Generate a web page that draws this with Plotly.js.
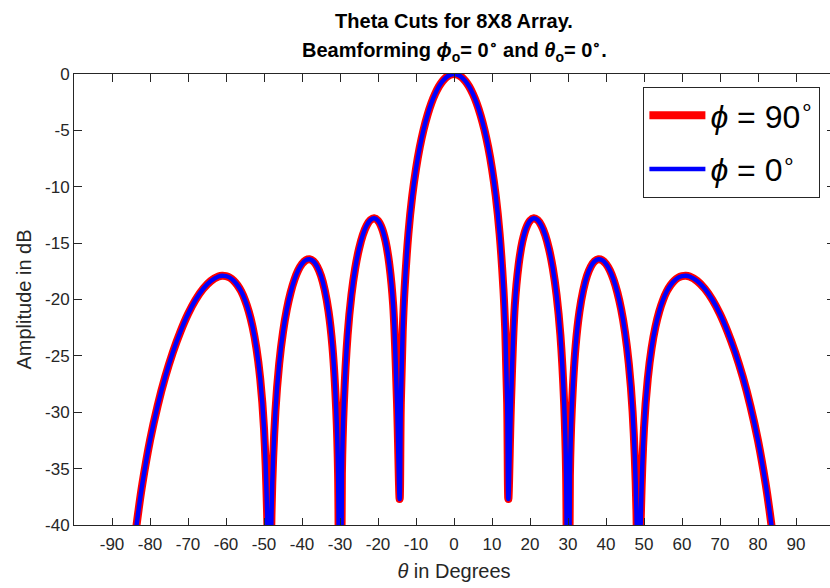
<!DOCTYPE html>
<html>
<head>
<meta charset="utf-8">
<script src="https://cdn.plot.ly/plotly-3.0.1.min.js"></script>
<style>
html, body { margin:0; padding:0; overflow:hidden; background:#fff; }
#chart { width:836px; height:588px; }
</style>
</head>
<body>
<div id="chart"></div>
<script>
// Theta samples (degrees)
const theta = [
  -90,-88,-86,-84,-83,-82,-80,-78,-76,-74,
  -72,-70,-68,-66,-64,-62,-61,-60,-59,-58,
  -57,-56,-55,-54,-53,-52,-51,-50,-49,-48.6,
  -48,-47,-46,-45,-44,-43,-42,-41,-40,-39,
  -38,-37,-36,-35,-34,-33,-32,-31,-30.5,-30,
  -29.5,-29,-28,-27,-26,-25,-24,-23,-22,-21,
  -20,-19,-18,-17,-16,-15,-14.3,-14,-13.5,-13,
  -12,-11,-10,-9,-8,-7,-6,-5,-4,-3,
  -2,-1,0,
  1,2,3,4,5,6,7,8,9,10,
  11,12,13,13.5,14,14.3,15,16,17,18,
  19,20,21,22,23,24,25,26,27,28,
  29,29.5,30,30.5,31,32,33,34,35,36,
  37,38,39,40,41,42,43,44,45,46,
  47,48,48.6,49,50,51,52,53,54,55,
  56,57,58,59,60,61,62,64,66,68,
  70,72,74,76,78,80,82,83,84,86,
  88,90
];

// Amplitude (dB), cut at phi = 90 deg
const ampPhi90 = [
  -80,-60.3,-48.3,-41.3,-38.64,-36.33,-32.51,-29.44,-26.87,-24.7,
  -22.86,-21.29,-20.02,-19.05,-18.36,-17.96,-17.89,-17.93,-18.06,-18.32,
  -18.72,-19.27,-20.05,-21.07,-22.44,-24.31,-27.01,-31.42,-41.9,-70,
  -38.6,-29.96,-25.69,-22.9,-20.89,-19.39,-18.25,-17.41,-16.84,-16.51,
  -16.43,-16.61,-17.08,-17.9,-19.18,-21.1,-24.15,-29.77,-35.6,-70,
  -35.4,-29.32,-23.16,-19.63,-17.23,-15.52,-14.28,-13.44,-12.95,-12.8,
  -13.01,-13.65,-14.85,-16.93,-20.54,-29.1,-37.7,-29.34,-22.86,-19.05,
  -14.15,-10.85,-8.41,-6.48,-4.93,-3.66,-2.62,-1.79,-1.12,-0.63,
  -0.28,-0.07,0,
  -0.07,-0.28,-0.63,-1.12,-1.79,-2.62,-3.66,-4.93,-6.48,-8.41,
  -10.85,-14.15,-19.05,-22.86,-29.34,-37.7,-29.1,-20.54,-16.93,-14.85,
  -13.65,-13.01,-12.8,-12.95,-13.44,-14.28,-15.52,-17.23,-19.63,-23.16,
  -29.32,-35.4,-70,-35.6,-29.77,-24.15,-21.1,-19.18,-17.9,-17.08,
  -16.61,-16.43,-16.51,-16.84,-17.41,-18.25,-19.39,-20.89,-22.9,-25.69,
  -29.96,-38.6,-70,-41.9,-31.42,-27.01,-24.31,-22.44,-21.07,-20.05,
  -19.27,-18.72,-18.32,-18.06,-17.93,-17.89,-17.96,-18.36,-19.05,-20.02,
  -21.29,-22.86,-24.7,-26.87,-29.44,-32.51,-36.33,-38.64,-41.3,-48.3,
  -60.3,-80
];

// Amplitude (dB), cut at phi = 0 deg (identical for the square array)
const ampPhi0 = [
  -80,-60.3,-48.3,-41.3,-38.64,-36.33,-32.51,-29.44,-26.87,-24.7,
  -22.86,-21.29,-20.02,-19.05,-18.36,-17.96,-17.89,-17.93,-18.06,-18.32,
  -18.72,-19.27,-20.05,-21.07,-22.44,-24.31,-27.01,-31.42,-41.9,-70,
  -38.6,-29.96,-25.69,-22.9,-20.89,-19.39,-18.25,-17.41,-16.84,-16.51,
  -16.43,-16.61,-17.08,-17.9,-19.18,-21.1,-24.15,-29.77,-35.6,-70,
  -35.4,-29.32,-23.16,-19.63,-17.23,-15.52,-14.28,-13.44,-12.95,-12.8,
  -13.01,-13.65,-14.85,-16.93,-20.54,-29.1,-37.7,-29.34,-22.86,-19.05,
  -14.15,-10.85,-8.41,-6.48,-4.93,-3.66,-2.62,-1.79,-1.12,-0.63,
  -0.28,-0.07,0,
  -0.07,-0.28,-0.63,-1.12,-1.79,-2.62,-3.66,-4.93,-6.48,-8.41,
  -10.85,-14.15,-19.05,-22.86,-29.34,-37.7,-29.1,-20.54,-16.93,-14.85,
  -13.65,-13.01,-12.8,-12.95,-13.44,-14.28,-15.52,-17.23,-19.63,-23.16,
  -29.32,-35.4,-70,-35.6,-29.77,-24.15,-21.1,-19.18,-17.9,-17.08,
  -16.61,-16.43,-16.51,-16.84,-17.41,-18.25,-19.39,-20.89,-22.9,-25.69,
  -29.96,-38.6,-70,-41.9,-31.42,-27.01,-24.31,-22.44,-21.07,-20.05,
  -19.27,-18.72,-18.32,-18.06,-17.93,-17.89,-17.96,-18.36,-19.05,-20.02,
  -21.29,-22.86,-24.7,-26.87,-29.44,-32.51,-36.33,-38.64,-41.3,-48.3,
  -60.3,-80
];

const seriesNames = ['<i>ϕ</i> = 90<sup>∘</sup>', '<i>ϕ</i> = 0<sup>∘</sup>'];
const titleLine1 = '<b>Theta Cuts for 8X8 Array.</b>';
const titleLine2 = '<b>Beamforming <i>ϕ</i><sub>o</sub>= 0<sup>∘</sup> and <i>θ</i><sub>o</sub>= 0<sup>∘</sup>.</b>';

const xTickVals = [-90,-80,-70,-60,-50,-40,-30,-20,-10,0,10,20,30,40,50,60,70,80,90];
const xTickText = ['-90','-80','-70','-60','-50','-40','-30','-20','-10','0','10','20','30','40','50','60','70','80','90'];
const yTickVals = [0,-5,-10,-15,-20,-25,-30,-35,-40];
const yTickText = ['0','-5','-10','-15','-20','-25','-30','-35','-40'];

const FONT = 'Liberation Sans, Arial, Helvetica, sans-serif';
const AX = '#262626';

const traces = [
  { x: theta, y: ampPhi90, name: seriesNames[0], type: 'scatter', mode: 'lines',
    line: { color: '#ff0000', width: 8, shape: 'spline', smoothing: 1 }, legendgroup: 'a' },
  { x: theta, y: ampPhi0, name: seriesNames[1], type: 'scatter', mode: 'lines',
    line: { color: '#0000ff', width: 4.5, shape: 'spline', smoothing: 1 }, legendgroup: 'b' }
];

const layout = {
  width: 836, height: 588,
  margin: { l: 73.6, r: 2.4, t: 74, b: 63, autoexpand: false },
  paper_bgcolor: '#ffffff', plot_bgcolor: '#ffffff',
  font: { family: FONT, color: AX },
  title: {
    text: titleLine1,
    font: { family: FONT, size: 20, color: '#000000' },
    x: 0.5, xref: 'paper', xanchor: 'center',
    y: 1 - 21/588, yref: 'container', yanchor: 'middle'
  },
  annotations: [{
    text: titleLine2, xref: 'paper', yref: 'paper',
    x: 0.5, xanchor: 'center', y: (525 - 51) / 451, yanchor: 'middle',
    showarrow: false, font: { family: FONT, size: 20, color: '#000000' }
  }],
  xaxis: {
    range: [-100, 100], tickvals: xTickVals, ticktext: xTickText,
    ticks: 'inside', ticklen: 7.5, tickwidth: 1, tickcolor: AX,
    showline: true, linecolor: AX, linewidth: 1, mirror: 'ticks',
    showgrid: false, zeroline: false, automargin: false,
    ticklabelstandoff: 4,
    tickfont: { family: FONT, size: 17, color: AX },
    title: { text: '<i>θ</i> in Degrees', font: { family: FONT, size: 20, color: AX }, standoff: 10 }
  },
  yaxis: {
    range: [-40, 0], tickvals: yTickVals, ticktext: yTickText,
    ticks: 'inside', ticklen: 7.5, tickwidth: 1, tickcolor: AX,
    showline: true, linecolor: AX, linewidth: 1, mirror: 'ticks',
    showgrid: false, zeroline: false, automargin: false,
    tickfont: { family: FONT, size: 17, color: AX },
    title: { text: 'Amplitude in dB', font: { family: FONT, size: 20, color: AX }, standoff: 8 }
  },
  showlegend: true,
  legend: {
    x: (820 - 73.6) / 760, xanchor: 'right', xref: 'paper',
    y: (525 - 87) / 451, yanchor: 'top', yref: 'paper',
    bgcolor: '#ffffff', bordercolor: AX, borderwidth: 1,
    font: { family: FONT, size: 32, color: '#000000' },
    traceorder: 'grouped', tracegroupgap: 9, itemwidth: 56
  }
};

Plotly.newPlot('chart', traces, layout, { displayModeBar: false, staticPlot: true });
</script>
</body>
</html>
